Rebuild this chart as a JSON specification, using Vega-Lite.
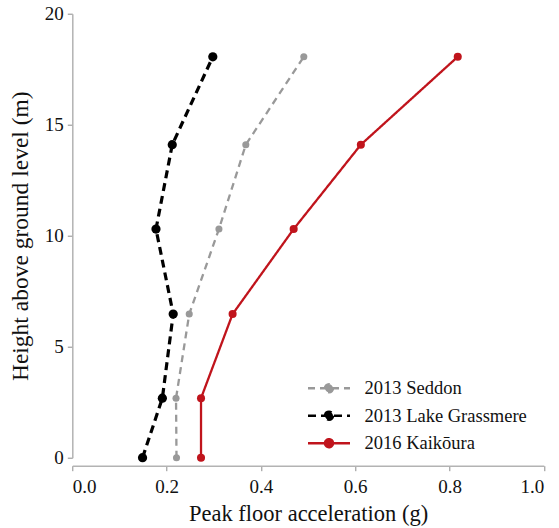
{
  "$schema": "https://vega.github.io/schema/vega-lite/v6.json",
  "width": 471.5,
  "height": 444,
  "autosize": {"type": "none"},
  "padding": {"left": 72.3, "top": 13.7, "right": 15.2, "bottom": 70.3},
  "background": "white",
  "config": {
    "view": {"stroke": null},
    "font": "Liberation Serif",
    "legend": {"labelFont": "Liberation Serif", "labelFontSize": 18.5, "labelColor": "#111", "labelLimit": 0},
    "axis": {
      "domainColor": "#b3b3b3",
      "domainWidth": 1.5,
      "tickColor": "#8c8c8c",
      "tickSize": 5,
      "grid": false,
      "labelFont": "Liberation Serif",
      "labelFontSize": 19,
      "labelColor": "#111",
      "titleFont": "Liberation Serif",
      "titleFontSize": 22.5,
      "titleFontWeight": "normal",
      "titleColor": "#111"
    }
  },
  "data": {
    "values": [
      {"event": "2013 Seddon", "height": 0, "pfa": 0.221},
      {"event": "2013 Seddon", "height": 2.68, "pfa": 0.22},
      {"event": "2013 Seddon", "height": 6.47, "pfa": 0.248},
      {"event": "2013 Seddon", "height": 10.3, "pfa": 0.311},
      {"event": "2013 Seddon", "height": 14.1, "pfa": 0.368},
      {"event": "2013 Seddon", "height": 18.06, "pfa": 0.491},
      {"event": "2013 Lake Grassmere", "height": 0, "pfa": 0.149},
      {"event": "2013 Lake Grassmere", "height": 2.68, "pfa": 0.191},
      {"event": "2013 Lake Grassmere", "height": 6.47, "pfa": 0.214},
      {"event": "2013 Lake Grassmere", "height": 10.3, "pfa": 0.1775},
      {"event": "2013 Lake Grassmere", "height": 14.1, "pfa": 0.212},
      {"event": "2013 Lake Grassmere", "height": 18.06, "pfa": 0.298},
      {"event": "2016 Kaikōura", "height": 0, "pfa": 0.273},
      {"event": "2016 Kaikōura", "height": 2.68, "pfa": 0.273},
      {"event": "2016 Kaikōura", "height": 6.47, "pfa": 0.34},
      {"event": "2016 Kaikōura", "height": 10.3, "pfa": 0.4695},
      {"event": "2016 Kaikōura", "height": 14.1, "pfa": 0.612},
      {"event": "2016 Kaikōura", "height": 18.06, "pfa": 0.8175}
    ]
  },
  "encoding": {
    "x": {
      "field": "pfa",
      "type": "quantitative",
      "scale": {"domain": [0, 1], "nice": false, "zero": false},
      "axis": {
        "title": "Peak floor acceleration (g)",
        "values": [0, 0.2, 0.4, 0.6, 0.8, 1],
        "format": ".1f",
        "offset": 8,
        "labelPadding": 7,
        "titlePadding": 6
      }
    },
    "y": {
      "field": "height",
      "type": "quantitative",
      "scale": {"domain": [0, 20], "nice": false},
      "axis": {
        "title": "Height above ground level (m)",
        "titleFontSize": 23.5,
        "values": [0, 5, 10, 15, 20],
        "labelPadding": 4,
        "titlePadding": 12
      }
    },
    "color": {
      "field": "event",
      "type": "nominal",
      "scale": {
        "domain": ["2013 Seddon", "2013 Lake Grassmere", "2016 Kaikōura"],
        "range": ["#999999", "#000000", "#c0141c"]
      },
      "legend": {
        "title": null,
        "orient": "none",
        "legendX": 245.2,
        "legendY": 363,
        "padding": 0,
        "symbolType": "M-2.1,0L2.1,0M0.4,0A0.4,0.4,0,1,1,-0.4,0A0.4,0.4,0,1,1,0.4,0Z",
        "symbolSize": 400,
        "symbolStrokeWidth": 2.5,
        "labelOffset": 24,
        "labelFontSize": 18.5,
        "labelLimit": 0,
        "rowPadding": 6.5
      }
    }
  },
  "layer": [
    {
      "mark": {"type": "line"},
      "encoding": {
        "order": {"field": "height", "type": "quantitative"},
        "strokeDash": {
          "field": "event",
          "type": "nominal",
          "scale": {
            "domain": ["2013 Seddon", "2013 Lake Grassmere", "2016 Kaikōura"],
            "range": [[7, 5], [8, 5], [1, 0]]
          },
          "legend": null
        },
        "strokeWidth": {
          "condition": {"test": "datum.event === '2013 Lake Grassmere'", "value": 3.2},
          "value": 2.3
        }
      }
    },
    {
      "mark": {"type": "circle", "opacity": 1},
      "encoding": {
        "size": {
          "condition": [
            {"test": "datum.event === '2013 Lake Grassmere'", "value": 85},
            {"test": "datum.event === '2016 Kaikōura'", "value": 65}
          ],
          "value": 50
        }
      }
    }
  ]
}
